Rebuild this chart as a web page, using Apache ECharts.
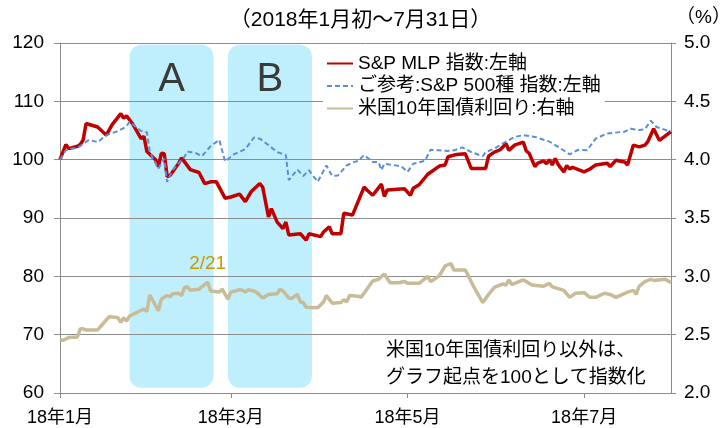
<!DOCTYPE html>
<html><head><meta charset="utf-8">
<script src="https://cdn.jsdelivr.net/npm/echarts@6/dist/echarts.min.js"></script>
<style>html,body{margin:0;padding:0;background:#fff}#c{width:721px;height:428px}</style>
</head><body><div id="c"></div>
<script>
const YEAR = '2018-';
const titleText = '（2018年1月初～7月31日）';
const seriesNames = ['S&P MLP 指数:左軸', 'ご参考:S&P 500種 指数:左軸', '米国10年国債利回り:右軸'];
const noteText = '米国10年国債利回り以外は、\nグラフ起点を100として指数化';
const rightUnit = '（%）';
const xTickDates = ['01-01', '03-01', '05-01', '07-01'];
const xRange = ['01-01', '07-31'];
const leftAxis = [60, 120, 10];
const rightAxis = [2.0, 5.0, 0.5];

const mlpDates = ['01-01','01-03','01-04','01-07','01-08','01-09','01-10','01-14','01-17','01-19','01-22','01-23','01-24','01-26','01-29','01-30','01-31','02-03','02-04','02-05','02-06','02-07','02-08','02-11','02-12','02-15','02-18','02-20','02-22','02-24','02-27','03-01','03-04','03-06','03-08','03-11','03-12','03-14','03-15','03-17','03-19','03-20','03-21','03-25','03-27','03-28','04-01','04-02','04-04','04-05','04-08','04-09','04-12','04-16','04-17','04-19','04-22','04-23','04-24','04-30','05-02','05-03','05-05','05-08','05-12','05-14','05-15','05-18','05-21','05-23','05-28','05-29','05-31','06-02','06-03','06-04','06-05','06-07','06-10','06-11','06-12','06-14','06-15','06-17','06-18','06-19','06-20','06-21','06-22','06-24','06-25','06-26','06-27','06-29','07-01','07-03','07-05','07-09','07-10','07-12','07-15','07-16','07-18','07-20','07-22','07-23','07-25','07-27','07-31'];
const mlpValues = [100,102.6,101.9,102.3,102.6,103.4,106.2,105.6,104.2,106.0,107.9,107.1,107.5,106.2,103.6,104.0,101.4,100.0,98.8,101.1,101.0,97.1,97.3,99.4,100.3,98.3,97.8,95.9,96.2,96.2,93.4,93.6,94.1,92.8,94.5,95.9,95.3,90.2,91.6,89.3,88.2,89.3,87.1,87.3,86.2,87.3,86.8,87.6,88.5,87.3,87.3,90.8,90.5,95.3,94.8,93.9,95.8,93.7,94.8,95.0,93.9,95.1,95.7,97.5,98.9,99.1,100.5,100.9,101.0,98.5,98.5,100.6,101.3,101.7,102.2,102.8,101.6,102.5,103.0,101.5,101.1,98.8,99.4,99.8,99.3,100.0,99.1,100.2,99.2,97.9,99.0,98.4,98.7,98.3,97.9,98.4,99.1,99.4,98.8,99.9,99.6,99.1,102.5,102.2,102.5,103.1,105.3,103.3,104.8];

const spxDates = ['01-01','01-03','01-05','01-07','01-11','01-14','01-17','01-21','01-24','01-25','01-27','01-29','01-31','02-01','02-02','02-04','02-05','02-06','02-07','02-09','02-13','02-14','02-17','02-19','02-22','02-25','02-27','03-02','03-06','03-09','03-11','03-14','03-17','03-20','03-21','03-24','03-26','03-28','03-29','03-31','04-03','04-05','04-07','04-10','04-12','04-14','04-16','04-19','04-21','04-22','04-23','04-26','04-29','05-01','05-03','05-07','05-09','05-12','05-15','05-17','05-20','05-23','05-27','05-28','05-31','06-03','06-07','06-10','06-14','06-19','06-23','06-26','06-29','07-02','07-05','07-09','07-15','07-17','07-20','07-22','07-24','07-26','07-31'];
const spxValues = [100,101.6,101.9,102.0,103.4,103.0,104.2,104.9,105.7,106.5,105.7,104.9,104.7,101.4,100.3,98.5,99.4,100.2,96.2,98.3,100.5,101.4,101.1,100.6,102.3,103.4,99.7,100.9,101.8,103.8,103.6,102.5,101.3,100.8,96.5,98.3,97.2,98.2,97.5,96.2,99.0,97.2,97.3,99.0,99.5,99.8,100.8,99.6,99.6,98.2,99.3,99.1,98.8,97.9,99.3,99.8,101.7,101.6,101.5,101.6,102.1,101.3,100.6,101.3,101.9,102.8,103.9,104.2,103.9,103.1,101.9,100.9,101.7,101.6,103.6,104.5,104.8,105.3,105.1,105.2,106.7,105.6,104.8];

const ustDates = ['01-01','01-02','01-04','01-07','01-08','01-09','01-10','01-14','01-15','01-18','01-21','01-22','01-23','01-24','01-25','01-30','01-31','02-01','02-04','02-05','02-07','02-08','02-09','02-11','02-12','02-13','02-14','02-15','02-18','02-21','02-22','02-25','02-26','02-28','03-01','03-04','03-05','03-06','03-07','03-09','03-10','03-12','03-14','03-17','03-18','03-19','03-21','03-22','03-24','03-25','03-26','03-27','03-31','04-02','04-03','04-05','04-08','04-09','04-10','04-11','04-14','04-15','04-19','04-21','04-23','04-25','04-28','04-30','05-01','05-05','05-08','05-09','05-12','05-14','05-16','05-17','05-21','05-24','05-27','05-29','05-31','06-03','06-04','06-05','06-06','06-07','06-10','06-13','06-17','06-19','06-20','06-24','06-26','06-28','07-01','07-03','07-05','07-08','07-10','07-12','07-16','07-18','07-19','07-20','07-22','07-24','07-25','07-29','07-31'];
const ustValues = [2.46,2.45,2.475,2.48,2.55,2.55,2.54,2.54,2.57,2.655,2.645,2.605,2.645,2.615,2.66,2.72,2.70,2.84,2.705,2.805,2.835,2.825,2.85,2.855,2.835,2.905,2.91,2.88,2.89,2.95,2.875,2.865,2.89,2.805,2.865,2.885,2.88,2.865,2.885,2.875,2.86,2.815,2.845,2.85,2.89,2.875,2.815,2.81,2.845,2.78,2.775,2.735,2.73,2.78,2.835,2.77,2.775,2.80,2.78,2.835,2.83,2.82,2.96,2.975,3.02,2.945,2.945,2.955,2.94,2.94,3.0,2.955,3.005,3.09,3.11,3.055,3.055,2.905,2.775,2.845,2.905,2.935,2.925,2.97,2.93,2.94,2.97,2.925,2.915,2.94,2.91,2.88,2.82,2.855,2.86,2.82,2.82,2.855,2.845,2.82,2.865,2.88,2.845,2.915,2.955,2.975,2.965,2.975,2.945];
const ustMarkDate = '02-21';
const ustMarkText = '2/21';

const boxStarts = ['01-25', '02-28'];
const boxEnds = ['02-23', '03-29'];
const boxLabels = ['A', 'B'];
const boxValueRange = [60.9, 119.7];

const FONT = '"Liberation Sans", Arial, "Noto Sans CJK JP", sans-serif';
const GRAY = '#8c8c8c';
const ts = s => { const p = (YEAR + s).split('-').map(Number); return new Date(p[0], p[1] - 1, p[2]).getTime(); };
const pairs = (dates, vals) => dates.map((d, i) => [ts(d), vals[i]]);
const tickTs = xTickDates.map(ts);
const markIdx = ustDates.indexOf(ustMarkDate);

const chart = echarts.init(document.getElementById('c'), null, { renderer: 'canvas' });
chart.setOption({
  animation: false,
  backgroundColor: '#fff',
  textStyle: { fontFamily: FONT },
  title: { text: titleText, left: 'center', top: 5, textStyle: { fontSize: 21, fontWeight: 'normal', color: '#000', fontFamily: FONT } },
  grid: { left: 60, right: 50, top: 43, bottom: 35, containLabel: false, outerBoundsMode: 'none' },
  legend: {
    orient: 'vertical', left: 323, top: 52, itemWidth: 26, itemHeight: 14, itemGap: 3.5,
    padding: [2, 4, 2, 3], backgroundColor: '#fff',
    data: seriesNames,
    itemStyle: { color: 'rgba(0,0,0,0)', borderWidth: 0, opacity: 0 },
    textStyle: { fontSize: 19, lineHeight: 19, color: '#000', fontFamily: FONT }
  },
  xAxis: {
    type: 'value', min: ts(xRange[0]), max: ts(xRange[1]),
    axisLine: { lineStyle: { color: GRAY, width: 1 } },
    axisTick: { show: true, customValues: tickTs, length: 5, lineStyle: { color: GRAY } },
    axisLabel: { customValues: tickTs, formatter: v => '18年' + (new Date(v).getMonth() + 1) + '月', fontSize: 18, color: '#000', margin: 16, fontFamily: FONT },
    splitLine: { show: false }
  },
  yAxis: [
    {
      type: 'value', min: leftAxis[0], max: leftAxis[1], interval: leftAxis[2],
      axisLine: { show: true, lineStyle: { color: GRAY } },
      axisTick: { show: true, length: 6, lineStyle: { color: GRAY } },
      axisLabel: { fontSize: 19, color: '#000', margin: 16, fontFamily: FONT },
      splitLine: { show: true, lineStyle: { color: GRAY, width: 1 } }
    },
    {
      type: 'value', min: rightAxis[0], max: rightAxis[1], interval: rightAxis[2], position: 'right',
      axisLine: { show: true, lineStyle: { color: GRAY } },
      axisTick: { show: true, length: 5, lineStyle: { color: GRAY } },
      axisLabel: { fontSize: 19, color: '#000', margin: 13, formatter: v => v.toFixed(1), fontFamily: FONT },
      splitLine: { show: false }
    }
  ],
  graphic: [
    { type: 'text', left: 676, top: 8, style: { text: rightUnit, fontSize: 19, fill: '#000', fontFamily: FONT } },
    { type: 'text', left: 386, top: 337, style: { text: noteText, fontSize: 19, lineHeight: 27, fill: '#000', fontFamily: FONT } }
  ],
  series: [
    {
      type: 'custom', z: -1, silent: true,
      data: boxStarts.map((s, i) => [ts(s), ts(boxEnds[i])]),
      encode: { x: [0, 1] },
      renderItem: (params, api) => {
        const p0 = api.coord([api.value(0), boxValueRange[1]]);
        const p1 = api.coord([api.value(1), boxValueRange[0]]);
        return {
          type: 'group', children: [
            { type: 'rect', shape: { x: p0[0], y: p0[1], width: p1[0] - p0[0], height: p1[1] - p0[1], r: 12 }, style: { fill: '#BFEFFC' } },
            { type: 'text', style: { text: boxLabels[params.dataIndex], x: (p0[0] + p1[0]) / 2, y: p0[1] + 35, align: 'center', verticalAlign: 'middle', fontSize: 40, fill: '#3a3a3a', fontFamily: FONT } }
          ]
        };
      }
    },
    {
      name: seriesNames[0], type: 'line', yAxisIndex: 0, data: pairs(mlpDates, mlpValues),
      symbol: 'none', lineStyle: { color: '#C00000', width: 3.5 }, itemStyle: { color: '#C00000' }, z: 3
    },
    {
      name: seriesNames[1], type: 'line', yAxisIndex: 0, data: pairs(spxDates, spxValues),
      symbol: 'none', lineStyle: { color: '#5B8ED8', width: 2, type: [5, 3] }, itemStyle: { color: '#5B8ED8' }, z: 4
    },
    {
      name: seriesNames[2], type: 'line', yAxisIndex: 1, data: pairs(ustDates, ustValues),
      symbol: 'none', lineStyle: { color: '#C8BC98', width: 3.5 }, itemStyle: { color: '#C8BC98' }, z: 3,
      markPoint: {
        symbol: 'circle', symbolSize: 0, silent: true,
        label: { show: true, position: 'top', distance: 9, formatter: ustMarkText, color: '#C99A00', fontSize: 19, fontFamily: FONT },
        data: [{ coord: [ts(ustMarkDate), ustValues[markIdx]] }]
      }
    }
  ]
});
</script></body></html>
